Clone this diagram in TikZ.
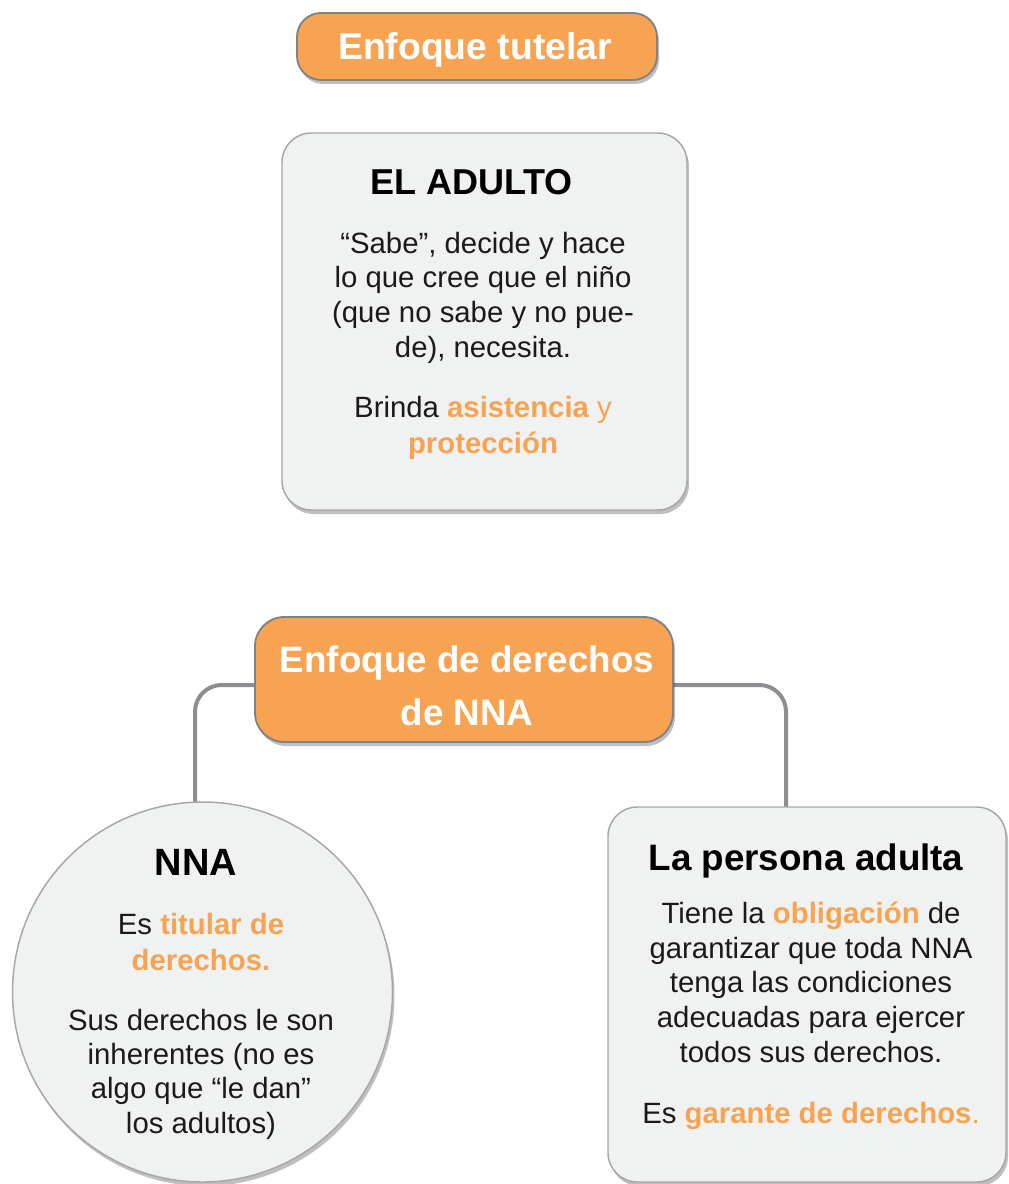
\documentclass[tikz,border=0pt]{standalone}
\usepackage{fontspec}
\setmainfont{Liberation Sans}
\usetikzlibrary{shadows}
\definecolor{orng}{RGB}{247,163,82}
\definecolor{boxfill}{RGB}{240,241,241}
\definecolor{boxline}{RGB}{165,167,170}
\definecolor{darkline}{RGB}{128,130,134}
\definecolor{connc}{RGB}{141,142,146}
\definecolor{txt}{RGB}{26,26,26}
\newcommand{\hl}[1]{\textcolor{orng}{\bfseries #1}}
\begin{document}
\begin{tikzpicture}[x=0.75pt,y=-0.75pt,
  shadowed/.style={drop shadow={shadow xshift=1.5pt,shadow yshift=-3pt,opacity=0.25,fill=black}},
  orangebox/.style={shadowed,rectangle,draw=darkline,line width=1.4pt,fill=orng,rounded corners=18pt,inner sep=0pt},
  greybox/.style={shadowed,rectangle,draw=boxline,line width=1.1pt,fill=boxfill,rounded corners=22pt,inner sep=0pt},
  greycircle/.style={shadowed,circle,draw=boxline,line width=1.1pt,fill=boxfill,inner sep=0pt},
  wtitle/.style={anchor=base,text=white,font=\bfseries\fontsize{28pt}{33pt}\selectfont,inner sep=0pt},
  btitle/.style={anchor=base,text=black,font=\bfseries\fontsize{26pt}{31pt}\selectfont,inner sep=0pt},
  body/.style={anchor=base,text=txt,align=center,inner sep=0pt,font=\fontsize{22pt}{26pt}\selectfont},
  conn/.style={draw=connc,line width=3pt,rounded corners=20pt}
]
\useasboundingbox (0,0) rectangle (1008,1184);

% connectors (drawn first, behind boxes)
\coordinate (dwest) at (255,685);
\coordinate (deast) at (673,685);
\coordinate (nnatop) at (195,803);
\coordinate (pertop) at (786,808);
\draw[conn] (dwest) -| (nnatop);
\draw[conn] (deast) -| (pertop);

% boxes
\node[orangebox,minimum width=270pt,minimum height=50.25pt] (tut) at (477,46.5) {};
\node[greybox,minimum width=303.75pt,minimum height=282.75pt] (adu) at (484.5,321.5) {};
\node[orangebox,rounded corners=22pt,minimum width=313.5pt,minimum height=93.75pt] (der) at (464,679.5) {};
\node[greycircle,minimum size=285pt] (nna) at (202.5,992) {};
\node[greybox,minimum width=298.5pt,minimum height=281.25pt] (per) at (807,994.5) {};

% texts (base anchor = baseline of the last line)
\node[wtitle] (tutT) at (475,60) {Enfoque tutelar};

\node[btitle,font=\bfseries\fontsize{27pt}{31pt}\selectfont] (aduT) at (471.5,195) {EL ADULTO};
\node[body] (aduB) at (483,357) {“Sabe”, decide y hace\\lo que cree que el niño\\(que no sabe y no pue-\\de), necesita.};
\node[body,font=\fontsize{22pt}{27pt}\selectfont] (aduC) at (483,453) {Brinda \hl{asistencia} \textcolor{orng}{y}\\\hl{protección}};

\node[wtitle,align=center,font=\bfseries\fontsize{27.6pt}{39.75pt}\selectfont] (derT) at (467,725) {Enfoque de derechos\\de NNA};

\node[btitle,font=\bfseries\fontsize{28.5pt}{33pt}\selectfont] (nnaT) at (196,875) {NNA};
\node[body,font=\fontsize{22pt}{27pt}\selectfont] (nnaB) at (201,970) {Es \hl{titular de}\\\hl{derechos.}};
\node[body,font=\fontsize{22pt}{25.75pt}\selectfont] (nnaC) at (201,1133) {Sus derechos le son\\inherentes (no es\\algo que “le dan”\\los adultos)};

\node[btitle,font=\bfseries\fontsize{27.6pt}{32pt}\selectfont] (perT) at (806,870) {La persona adulta};
\node[body] (perB) at (811,1062) {Tiene la \hl{obligación} de\\garantizar que toda NNA\\tenga las condiciones\\adecuadas para ejercer\\todos sus derechos.};
\node[body] (perC) at (811,1123) {Es \hl{garante de derechos}\textcolor{orng}{.}};
\end{tikzpicture}
\end{document}
